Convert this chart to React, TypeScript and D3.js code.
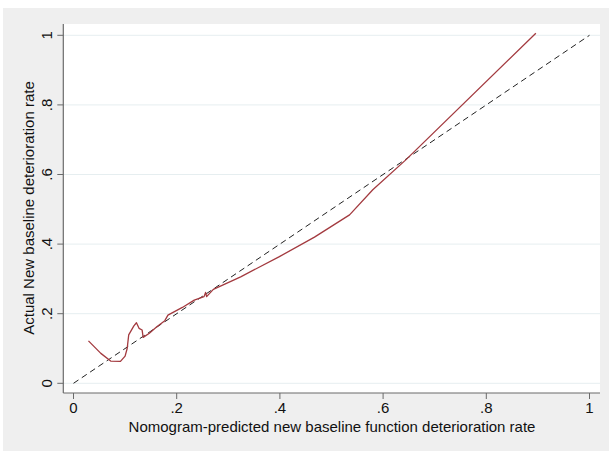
import React from "react";
import * as d3 from "d3";

const predicted = [0.029, 0.053, 0.072, 0.091, 0.100, 0.104, 0.107, 0.117, 0.122, 0.127, 0.133, 0.135, 0.147, 0.162, 0.177, 0.183, 0.211, 0.234, 0.253, 0.256, 0.258, 0.271, 0.324, 0.399, 0.467, 0.535, 0.580, 0.644, 0.896];
const actual = [0.122, 0.086, 0.064, 0.063, 0.078, 0.100, 0.139, 0.165, 0.174, 0.158, 0.153, 0.132, 0.144, 0.163, 0.180, 0.196, 0.218, 0.239, 0.249, 0.261, 0.249, 0.270, 0.306, 0.364, 0.420, 0.484, 0.556, 0.642, 1.006];
const xTicks = [0, 0.2, 0.4, 0.6, 0.8, 1];
const yTicks = [0, 0.2, 0.4, 0.6, 0.8, 1];
const xTickLabels = ["0", ".2", ".4", ".6", ".8", "1"];
const yTickLabels = ["0", ".2", ".4", ".6", ".8", "1"];
const refLine = [0, 1];

export default function App() {
  const W = 609, H = 451;
  const x = d3.scaleLinear().domain([0, 1]).range([73.5, 589.5]);
  const y = d3.scaleLinear().domain([0, 1]).range([383.3, 35.3]);
  const left = 63.3, top = 24, right = 600, bottom = 393;
  const font = "'Liberation Sans', Arial, Helvetica, sans-serif";
  const pts = predicted.map((p, i) => [p, actual[i]] as [number, number]);
  const line = d3.line<[number, number]>().x(d => x(d[0])).y(d => y(d[1]));
  const ref = refLine.map(v => [v, v] as [number, number]);
  return (
    <svg width={W} height={H} style={{ position: "absolute", left: 0, top: 0 }} fontFamily={font}>
      <rect x={0} y={0} width={W} height={H} fill="#ffffff" />
      <rect x={3} y={8} width={W - 3} height={H - 8} fill="#efefef" />
      <rect x={left} y={top} width={right - left} height={bottom - top} fill="#ffffff" />
      {yTicks.map((t, i) => (
        <line key={"g" + i} x1={left} x2={right} y1={y(t)} y2={y(t)} stroke="#e6eef0" strokeWidth={1} />
      ))}
      <path d={line(ref) || ""} fill="none" stroke="#222" strokeWidth={1} strokeDasharray="6,4" />
      <path d={line(pts) || ""} fill="none" stroke="#a33a3f" strokeWidth={1.3} strokeLinejoin="round" />
      <line x1={left} x2={left} y1={top} y2={bottom} stroke="#6a6a6a" strokeWidth={1.2} />
      <line x1={left} x2={right} y1={bottom} y2={bottom} stroke="#6a6a6a" strokeWidth={1.2} />
      {yTicks.map((t, i) => (
        <g key={"y" + i}>
          <line x1={left - 6} x2={left} y1={y(t)} y2={y(t)} stroke="#6a6a6a" strokeWidth={1} />
          <text transform={`translate(${left - 11},${y(t)}) rotate(-90)`} textAnchor="middle" fontSize={15} fill="#111">
            {yTickLabels[i]}
          </text>
        </g>
      ))}
      {xTicks.map((t, i) => (
        <g key={"x" + i}>
          <line x1={x(t)} x2={x(t)} y1={bottom} y2={bottom + 6} stroke="#6a6a6a" strokeWidth={1} />
          <text x={x(t)} y={bottom + 20} textAnchor="middle" fontSize={15} fill="#111">
            {xTickLabels[i]}
          </text>
        </g>
      ))}
      <text x={332} y={432} textAnchor="middle" fontSize={15} fill="#111">
        Nomogram-predicted new baseline function deterioration rate
      </text>
      <text transform={`translate(34,208) rotate(-90)`} textAnchor="middle" fontSize={15} fill="#111">
        Actual New baseline deterioration rate
      </text>
    </svg>
  );
}
